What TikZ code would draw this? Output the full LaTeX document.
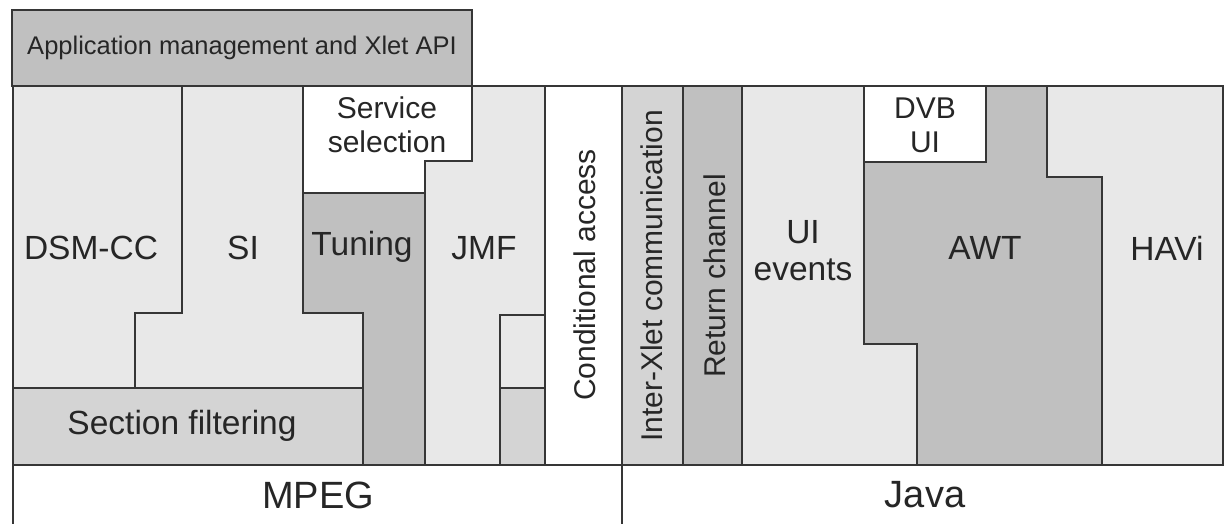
\documentclass[tikz,border=0pt]{standalone}
\usepackage{fontspec}
\setmainfont{Liberation Sans}
\definecolor{linec}{HTML}{363636}
\definecolor{lightg}{HTML}{E8E8E8}
\definecolor{midg}{HTML}{D4D4D4}
\definecolor{darkg}{HTML}{C0C0C0}
\newcommand{\fmain}{\fontsize{33.5}{37}\selectfont}
\newcommand{\fsmall}{\fontsize{30}{34}\selectfont}
\newcommand{\fbig}{\fontsize{38}{42}\selectfont}
\newcommand{\fapp}{\fontsize{25.5}{30}\selectfont}
\begin{document}
\begin{tikzpicture}[x=1pt,y=-1pt,
  part/.style={draw=linec, line width=2.2pt, line join=miter},
  lbl/.style={inner sep=0pt, text=black!85, align=center},
  vlbl/.style={lbl, rotate=90, font=\fsmall}]
\useasboundingbox (0,0) rectangle (1225,524);
% application management
\draw[part, fill=darkg] (12,10) rectangle (472,86);
% MPEG side
\draw[part, fill=lightg] (13,86) -- (182,86) -- (182,313) -- (135,313) -- (135,388) -- (13,388) -- cycle;
\draw[part, fill=lightg] (182,86) -- (303,86) -- (303,313) -- (363,313) -- (363,388) -- (135,388) -- (135,313) -- (182,313) -- cycle;
\draw[part, fill=midg] (13,388) rectangle (363,465);
\draw[part, fill=white] (303,86) -- (472,86) -- (472,161) -- (425,161) -- (425,193) -- (303,193) -- cycle;
\draw[part, fill=darkg] (303,193) -- (425,193) -- (425,465) -- (363,465) -- (363,313) -- (303,313) -- cycle;
\draw[part, fill=lightg] (472,86) -- (545,86) -- (545,315) -- (500,315) -- (500,465) -- (425,465) -- (425,161) -- (472,161) -- cycle;
\draw[part, fill=lightg] (500,315) rectangle (545,388);
\draw[part, fill=midg] (500,388) rectangle (545,465);
\draw[part, fill=white] (545,86) rectangle (622,465);
% Java side
\draw[part, fill=midg] (622,86) rectangle (683,465);
\draw[part, fill=darkg] (683,86) rectangle (742,465);
\draw[part, fill=lightg] (742,86) -- (864,86) -- (864,344) -- (917,344) -- (917,465) -- (742,465) -- cycle;
\draw[part, fill=white] (864,86) rectangle (986,162);
\draw[part, fill=darkg] (864,162) -- (986,162) -- (986,86) -- (1047,86) -- (1047,177) -- (1102,177) -- (1102,465) -- (917,465) -- (917,344) -- (864,344) -- cycle;
\draw[part, fill=lightg] (1047,86) -- (1223,86) -- (1223,465) -- (1102,465) -- (1102,177) -- (1047,177) -- cycle;
% base band
\draw[part] (13,465) -- (1223,465);
\draw[part] (13,86) -- (13,524);
\draw[part] (622,465) -- (622,524);
% labels
\node[lbl, font=\fapp] (app) at (242,48) {Application management and Xlet API};
\node[lbl, font=\fmain] (dsm) at (91,248) {DSM-CC};
\node[lbl, font=\fmain] (si) at (243,248) {SI};
\node[lbl, font=\fsmall] (serv) at (387,125) {Service\\selection};
\node[lbl, font=\fmain] (tun) at (362,247) {Tuning};
\node[lbl, font=\fmain] (jmf) at (484,248) {JMF};
\node[lbl, font=\fmain] (secf) at (182,426) {Section filtering};
\node[vlbl] (cond) at (585,275) {Conditional access};
\node[vlbl] (inter) at (652,276) {Inter-Xlet communication};
\node[vlbl] (ret) at (715,276) {Return channel};
\node[lbl, font=\fmain] (uiev) at (803,251) {UI\\events};
\node[lbl, font=\fsmall] (dvb) at (925,125) {DVB\\UI};
\node[lbl, font=\fmain] (awt) at (985,248) {AWT};
\node[lbl, font=\fmain] (havi) at (1167,248) {HAVi};
\node[lbl, font=\fbig] (mpeg) at (318,495) {MPEG};
\node[lbl, font=\fbig] (java) at (925,495) {Java};
\end{tikzpicture}
\end{document}
